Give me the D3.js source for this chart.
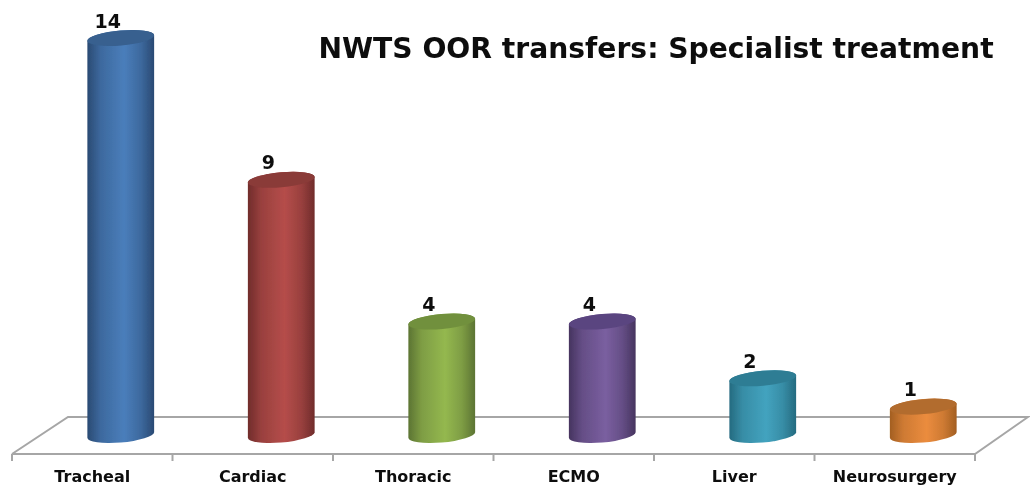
<!DOCTYPE html>
<html><head><meta charset="utf-8">
<script src="https://cdnjs.cloudflare.com/ajax/libs/d3/7.8.5/d3.min.js"></script>
<style>html,body{margin:0;padding:0;background:#fff}svg{display:block}</style>
</head><body><svg id="c" width="1030" height="487"></svg>
<script>
const categories = ["Tracheal","Cardiac","Thoracic","ECMO","Liver","Neurosurgery"];
const values = [14,9,4,4,2,1];
const edgeColors = ["#2a4a73","#702c2b","#5c7433","#46345f","#256b80","#a35f22"];
const midColors = ["#4a7ebb","#b54d4a","#94b84f","#7a5fa0","#43a3bf","#eb8c3e"];
const topColors = ["#37608f","#8a3a38","#71903c","#5a4480","#2f7d94","#b26c2e"];
const titleText = "NWTS OOR transfers: Specialist treatment";

const W=1030,H=487, depthX=28.5, rx=33.5, ry=7.5, tilt=5;
const svg=d3.select("#c");
const x=d3.scaleBand().domain(categories).range([12,975]);
const y=d3.scaleLinear().domain([0,14]).range([435,38]);

const defs=svg.append("defs");
categories.forEach((c,i)=>{
  const g=defs.append("linearGradient").attr("id","g"+i).attr("x1","0").attr("x2","1").attr("y1","0").attr("y2","0");
  [[0,edgeColors[i]],[0.2,d3.interpolateRgb(edgeColors[i],midColors[i])(0.6)],[0.55,midColors[i]],[0.8,d3.interpolateRgb(edgeColors[i],midColors[i])(0.6)],[1,edgeColors[i]]]
    .forEach(s=>g.append("stop").attr("offset",s[0]).attr("stop-color",s[1]));
});
defs.append("filter").attr("id","soft").append("feGaussianBlur").attr("stdDeviation",0.5);

const root=svg.append("g").attr("filter","url(#soft)");
const floorY=[454,417], stroke="#a6a6a6";
const floor=root.append("g").attr("fill","none").attr("stroke",stroke).attr("stroke-width",2);
const x0=x.range()[0], x1=x.range()[1];
floor.append("path").attr("d",d3.line()([[x0,floorY[0]],[x0+56,floorY[1]],[x1+53,floorY[1]],[x1,floorY[0]],[x0,floorY[0]]]));
const axis=d3.axisBottom(x).tickSize(0).tickPadding(0);
const ax=root.append("g").attr("transform",`translate(0,${floorY[0]})`).call(axis);
ax.select(".domain").remove();
ax.selectAll("text").attr("y",23).attr("dy",0).attr("dominant-baseline","middle")
  .attr("font-family","DejaVu Sans").attr("font-weight","bold").attr("font-size",16).attr("fill","#111");
const edges=categories.map(c=>x(c)).concat([x1]);
root.append("g").selectAll("line").data(edges).join("line")
  .attr("x1",d=>d).attr("x2",d=>d).attr("y1",floorY[0]).attr("y2",floorY[0]+7)
  .attr("stroke",stroke).attr("stroke-width",2);

const t=tilt*Math.PI/180;
const dx=Math.sqrt(rx*rx*Math.cos(t)**2+ry*ry*Math.sin(t)**2);
const dy=(rx*rx-ry*ry)*Math.sin(t)*Math.cos(t)/dx;
const bars=root.append("g").selectAll("g").data(values).join("g");
bars.each(function(v,i){
  const cx=x(categories[i])+x.bandwidth()/2+depthX, yt=y(v), yb=y(0), g=d3.select(this);
  g.append("path")
   .attr("d",`M${cx-dx},${yt+dy}L${cx-dx},${yb+dy}A${rx},${ry} ${-tilt} 0 0 ${cx+dx},${yb-dy}L${cx+dx},${yt-dy}A${rx},${ry} ${-tilt} 0 0 ${cx-dx},${yt+dy}Z`)
   .attr("fill",`url(#g${i})`);
  g.append("ellipse").attr("cx",cx).attr("cy",yt).attr("rx",rx).attr("ry",ry)
   .attr("transform",`rotate(${-tilt} ${cx} ${yt})`).attr("fill",topColors[i]);
  g.append("text").attr("x",cx-13).attr("y",yt-10.5)
   .attr("text-anchor","middle").attr("font-family","DejaVu Sans").attr("font-weight","bold")
   .attr("font-size",19).attr("fill","#111").text(v);
});
root.append("text").attr("x",656).attr("y",57.5).attr("text-anchor","middle")
  .attr("font-family","DejaVu Sans").attr("font-weight","bold").attr("font-size",28.2).attr("fill","#111").text(titleText);
</script></body></html>
